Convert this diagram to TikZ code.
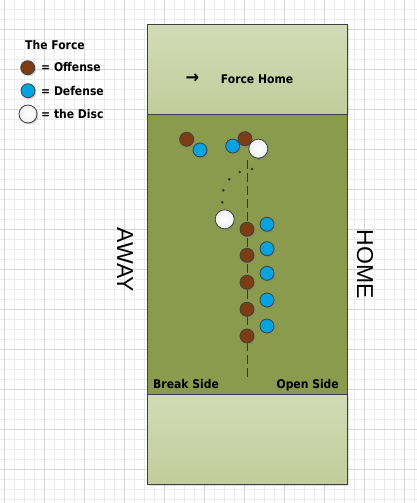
\documentclass[tikz,border=0pt]{standalone}
\usepackage{fontspec}
\setmainfont{Liberation Sans}
\newfontfamily\labelfont{DejaVu Sans}[FakeStretch=0.9]
\usepackage{tikz}
\usetikzlibrary{shadows, positioning}

\definecolor{zonetop}{HTML}{D2DBB5}
\definecolor{zonebot}{HTML}{C3CC9B}
\definecolor{fieldgreen}{HTML}{8A9B4E}
\definecolor{offbrown}{HTML}{7E3C13}
\definecolor{defblue}{HTML}{00A4E2}
\definecolor{rim}{HTML}{404040}

\tikzset{
  player/.style={circle, draw=rim, line width=0.8, inner sep=0pt, minimum size=14,
    drop shadow={shadow xshift=1.5pt, shadow yshift=-1.5pt, opacity=0.35}},
  offense/.style={player, fill=offbrown},
  defense/.style={player, fill=defblue},
  disc/.style={player, minimum size=19, inner color=white, outer color=gray!12},
  legendtext/.style={font=\labelfont\bfseries\fontsize{12}{14}\selectfont, inner sep=0pt},
  zone/.style={draw=rim, line width=1.3, top color=zonetop, bottom color=zonebot,
    drop shadow={shadow xshift=1.5pt, shadow yshift=-1.5pt, opacity=0.25}},
  minorline/.style={color=black!8, line width=0.8},
  majorline/.style={color=black!16, line width=0.8}
}

\begin{document}
\begin{tikzpicture}[x=1pt, y=-1pt]
  \useasboundingbox (0,0) rectangle (417,503);
  % grid paper
  \foreach \gx in {4.7,14.7,...,414.7}
    \draw[minorline] (\gx,0) -- (\gx,503);
  \foreach \gy in {9.3,19.3,...,499.3}
    \draw[minorline] (0,\gy) -- (417,\gy);
  \foreach \gx in {4.7,44.7,...,404.7}
    \draw[majorline] (\gx,0) -- (\gx,503);
  \foreach \gy in {29.3,69.3,...,469.3}
    \draw[majorline] (0,\gy) -- (417,\gy);

  % the field
  \draw[draw=rim, line width=1.3, fill=fieldgreen] (147.5,114.5) rectangle (347.5,394.5);
  \draw[zone] (147.5,24.5) rectangle (347.5,114.5);
  \draw[zone] (147.5,394.5) rectangle (347.5,484.5);

  % stack line and disc path
  \draw[dashed, dash pattern=on 9 off 4, color=black!80, line width=0.9] (247.3,160) coordinate (stacktop) -- (247.3,380) coordinate (stackbot);
  \foreach \px/\py in {258.7/158.3, 252/169, 239.7/172, 229.3/179.3, 223.3/190.3, 222.3/202.3}
    \fill[black!80] (\px,\py) circle (1.4);

  % offense
  \node[offense] (o1) at (186.7,139.3) {};
  \node[offense] (o2) at (245,138.7) {};
  \foreach \i/\py in {3/229.3, 4/255.3, 5/282.3, 6/309.3, 7/336}
    \node[offense] (o\i) at (247,\py) {};
  % defense
  \node[defense] (d1) at (200,150) {};
  \node[defense] (d2) at (232.7,146) {};
  \foreach \i/\py in {3/224.3, 4/248.7, 5/273.3, 6/300, 7/326}
    \node[defense] (d\i) at (267,\py) {};
  % discs
  \node[disc] (disc1) at (258.3,148.7) {};
  \node[disc] (disc2) at (224.7,219.3) {};

  % field labels
  \node[legendtext, font=\labelfont\bfseries\fontsize{18}{20}\selectfont] (arrow) at (192.5,79) {→};
  \node[legendtext, anchor=base west] (forcehome) at (220.7,84) {Force Home};
  \node[legendtext, anchor=base west] (breakside) at (153,388.7) {Break Side};
  \node[legendtext, anchor=base east] (openside) at (339,388.7) {Open Side};
  \node[rotate=-90, font=\fontsize{23}{26}\selectfont] (away) at (125,260) {AWAY};
  \node[rotate=-90, font=\fontsize{23}{26}\selectfont] (home) at (365,264) {HOME};

  % legend
  \node[legendtext, anchor=base west] (title) at (25,49.3) {The Force};
  \node[offense] (keyo) at (27.7,67.7) {};
  \node[defense] (keyd) at (28,90.7) {};
  \node[disc, minimum size=18] (keydisc) at (28,114) {};
  \node[legendtext, anchor=base west] (keyotext) at (41,71.7) {= Offense};
  \node[legendtext, anchor=base west] (keydtext) at (41,95) {= Defense};
  \node[legendtext, anchor=base west] (keydisctext) at (41,118) {= the Disc};
\end{tikzpicture}
\end{document}
